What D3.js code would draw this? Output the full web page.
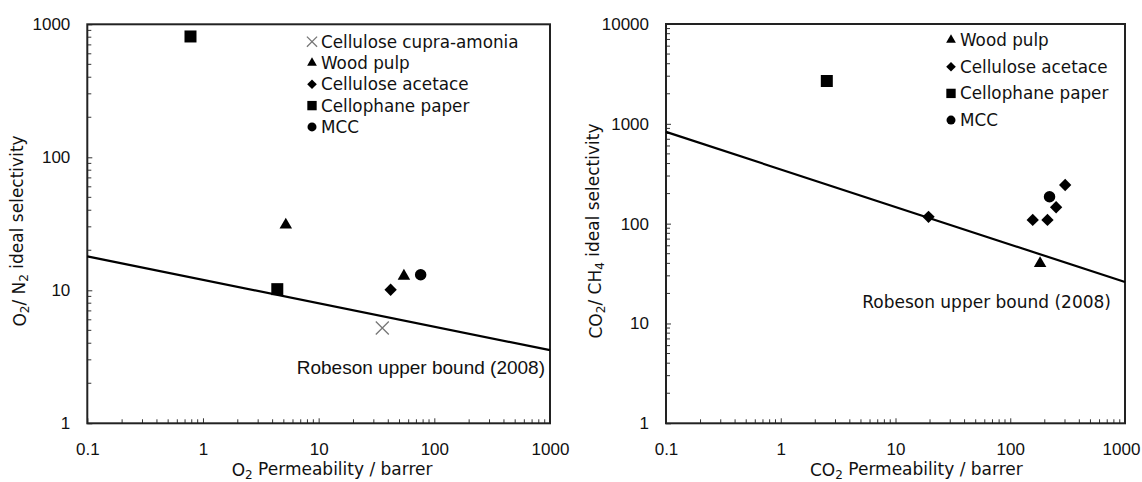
<!DOCTYPE html>
<html>
<head>
<meta charset="utf-8">
<title>Robeson plots</title>
<script src="https://cdn.jsdelivr.net/npm/d3@7"></script>
<style>
  body { margin: 0; background: #fff; }
  .tick text { font-family: "Liberation Sans", Arial, sans-serif; font-size: 17px; fill: #111; }
  .lbl { font-family: "DejaVu Sans", sans-serif; font-size: 17px; fill: #111; }
  .leg { font-family: "DejaVu Sans", sans-serif; font-size: 16.8px; fill: #111; }
</style>
</head>
<body>
<script>
// ---- data ----
var o2Legend = ["Cellulose cupra-amonia", "Wood pulp", "Cellulose acetace", "Cellophane paper", "MCC"];
var o2Cupra = [[35.5, 5.2]];
var o2Wood = [[5.2, 31], [54.6, 12.8]];
var o2Acetate = [[41.9, 10.1]];
var o2Cello = [[0.78, 810], [4.39, 10.2]];
var o2Mcc = [[76.2, 13.1]];
var o2Robeson = [[0.1, 18], [1000, 3.55]];

var co2Legend = ["Wood pulp", "Cellulose acetace", "Cellophane paper", "MCC"];
var co2Wood = [[182, 40]];
var co2Acetate = [[19.4, 117], [157, 109], [211, 109], [251, 146], [301, 244]];
var co2Cello = [[2.52, 2685]];
var co2Mcc = [[220, 186]];
var co2Robeson = [[0.1, 830], [1000, 26]];

var xTicks = [0.1, 1, 10, 100, 1000];
var o2YTicks = [1, 10, 100, 1000];
var co2YTicks = [1, 10, 100, 1000, 10000];

var svg = d3.select("body").append("svg")
    .attr("width", 1142)
    .attr("height", 482);

// marker drawing
var shapes = {
    cross: function (g, s) {
        var h = 6.5 * s;
        g.append("path").attr("d", "M" + -h + "," + -h + "L" + h + "," + h + "M" + -h + "," + h + "L" + h + "," + -h)
            .attr("stroke", "#777").attr("stroke-width", 1.3).attr("fill", "none");
    },
    tri: function (g, s) {
        g.append("path").attr("d", d3.symbol(d3.symbolTriangle, 68 * s * s)).attr("fill", "#000");
    },
    diamond: function (g, s) {
        g.append("path").attr("d", d3.symbol(d3.symbolSquare, 76 * s * s)).attr("transform", "rotate(45)").attr("fill", "#000");
    },
    square: function (g, s) {
        g.append("path").attr("d", d3.symbol(d3.symbolSquare, 144 * s * s)).attr("fill", "#000");
    },
    circle: function (g, s) {
        g.append("path").attr("d", d3.symbol(d3.symbolCircle, 104 * s * s)).attr("fill", "#000");
    }
};

function addSub(text, parts) {
    // parts: [ [str, isSub, afterSub], ... ]
    parts.forEach(function (p) {
        var t = text.append("tspan").text(p[0]);
        if (p[1]) t.attr("font-size", "12px").attr("dy", "0.25em");
        else if (p[2]) t.attr("dy", "-0.25em");
    });
}

function panel(cfg) {
    var x = d3.scaleLog().domain([0.1, 1000]).range([cfg.left, cfg.right]);
    var y = d3.scaleLog().domain(cfg.yDomain).range([cfg.bottom, cfg.top]);
    var g = svg.append("g");

    // minor ticks
    var xMinor = [], yMinor = [];
    d3.range(-1, 3).forEach(function (e) {
        d3.range(2, 10).forEach(function (m) { xMinor.push(m * Math.pow(10, e)); });
    });
    d3.range(0, Math.log10(cfg.yDomain[1])).forEach(function (e) {
        d3.range(2, 10).forEach(function (m) { yMinor.push(m * Math.pow(10, e)); });
    });
    g.selectAll(".xm").data(xMinor).enter().append("line")
        .attr("x1", d => x(d)).attr("x2", d => x(d))
        .attr("y1", cfg.bottom).attr("y2", cfg.bottom - 4)
        .attr("stroke", "#333").attr("stroke-width", 1);
    g.selectAll(".ym").data(yMinor).enter().append("line")
        .attr("x1", cfg.left).attr("x2", cfg.left + 4)
        .attr("y1", d => y(d)).attr("y2", d => y(d))
        .attr("stroke", "#333").attr("stroke-width", 1);

    // major axes
    var ax = g.append("g").attr("transform", "translate(0," + cfg.bottom + ")")
        .call(d3.axisBottom(x).tickValues(xTicks).tickFormat(d3.format("~g")).tickSize(-5).tickPadding(20));
    var ay = g.append("g").attr("transform", "translate(" + cfg.left + ",0)")
        .call(d3.axisLeft(y).tickValues(cfg.yTicks).tickFormat(d3.format("d")).tickSize(-5).tickPadding(17));
    [ax, ay].forEach(function (a) {
        a.select(".domain").remove();
        a.selectAll(".tick line").attr("stroke", "#333");
    });
    if (cfg.lastTickShift) {
        ax.selectAll(".tick text").filter(d => d === 1000).attr("dx", cfg.lastTickShift);
    }

    // frame
    g.append("rect").attr("x", cfg.left).attr("y", cfg.top)
        .attr("width", cfg.right - cfg.left).attr("height", cfg.bottom - cfg.top)
        .attr("fill", "none").attr("stroke", "#222").attr("stroke-width", 2);

    // Robeson line
    g.append("path").datum(cfg.robeson)
        .attr("d", d3.line().x(d => x(d[0])).y(d => y(d[1])))
        .attr("stroke", "#000").attr("stroke-width", 2.2).attr("fill", "none");

    cfg.robesonLabel(g);

    // points
    cfg.series.forEach(function (s) {
        s.data.forEach(function (d) {
            var m = g.append("g").attr("transform", "translate(" + x(d[0]) + "," + y(d[1]) + ")");
            shapes[s.shape](m, 1);
        });
    });

    // legend
    cfg.series.forEach(function (s, i) {
        var yy = cfg.legendY + i * cfg.legendStep;
        var m = g.append("g").attr("transform", "translate(" + cfg.legendX + "," + yy + ")");
        shapes[s.shape](m, 0.78);
        g.append("text").attr("class", "leg").attr("x", cfg.legendX + 9).attr("y", yy).attr("dy", "0.36em").text(s.name);
    });

    // axis titles
    var xt = g.append("text").attr("class", "lbl")
        .attr("x", cfg.xTitleX).attr("y", 476);
    addSub(xt, cfg.xTitle);
    var yt = g.append("text").attr("class", "lbl").attr("text-anchor", "middle")
        .attr("transform", "translate(" + cfg.yTitleX + ",231) rotate(-90)")
        .attr("dy", "0.35em");
    addSub(yt, cfg.yTitle);
}

panel({
    left: 87.3, right: 550, top: 24.3, bottom: 423.3,
    yDomain: [1, 1000], yTicks: o2YTicks,
    robeson: o2Robeson,
    robesonLabel: function (g) {
        g.append("text").attr("x", 545).attr("y", 373.5).attr("text-anchor", "end")
            .style("font-family", "'Liberation Sans', Arial, sans-serif").style("font-size", "19px")
            .style("fill", "#111")
            .text("Robeson upper bound (2008)");
    },
    series: [
        { name: o2Legend[0], shape: "cross", data: o2Cupra },
        { name: o2Legend[1], shape: "tri", data: o2Wood },
        { name: o2Legend[2], shape: "diamond", data: o2Acetate },
        { name: o2Legend[3], shape: "square", data: o2Cello },
        { name: o2Legend[4], shape: "circle", data: o2Mcc }
    ],
    legendX: 312, legendY: 41.7, legendStep: 21.3,
    xTitle: [["O"], ["2", true], [" Permeability / barrer", false, true]],
    xTitleX: 231.7,
    yTitle: [["O"], ["2", true], ["/ N", false, true], ["2", true], [" ideal selectivity", false, true]],
    yTitleX: 20
});

panel({
    left: 666, right: 1125, top: 24, bottom: 423.3,
    yDomain: [1, 10000], yTicks: co2YTicks,
    robeson: co2Robeson,
    robesonLabel: function (g) {
        g.append("text").attr("class", "lbl").attr("x", 1111).attr("y", 307.5).attr("text-anchor", "end")
            .text("Robeson upper bound (2008)");
    },
    series: [
        { name: co2Legend[0], shape: "tri", data: co2Wood },
        { name: co2Legend[1], shape: "diamond", data: co2Acetate },
        { name: co2Legend[2], shape: "square", data: co2Cello },
        { name: co2Legend[3], shape: "circle", data: co2Mcc }
    ],
    legendX: 951, legendY: 40, legendStep: 26.7,
    xTitle: [["CO"], ["2", true], [" Permeability / barrer", false, true]],
    xTitleX: 810,
    yTitle: [["CO"], ["2", true], ["/ CH", false, true], ["4", true], [" ideal selectivity", false, true]],
    yTitleX: 596,
    lastTickShift: -4
});
</script>
</body>
</html>
